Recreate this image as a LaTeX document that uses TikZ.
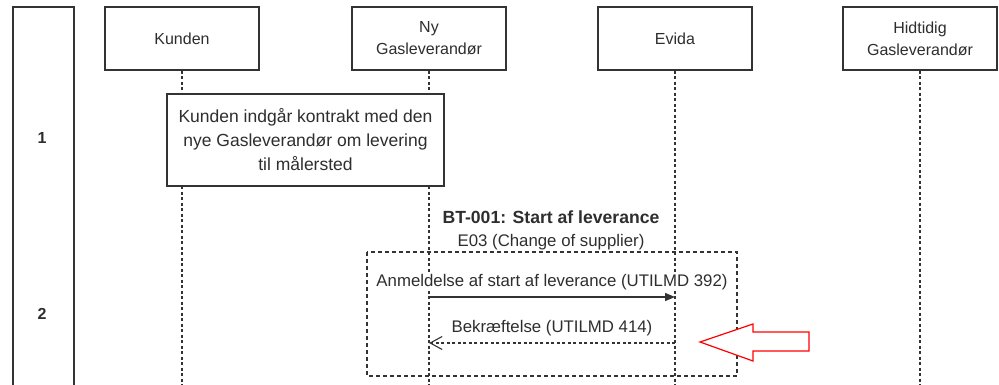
\documentclass[tikz,border=0pt]{standalone}
\usepackage{fontspec}
\setmainfont{Liberation Sans}
\usetikzlibrary{arrows.meta}
\definecolor{txt}{HTML}{2E2E2E}
\definecolor{ln}{HTML}{333333}
\tikzset{
  actor/.style={draw=ln, line width=1.2pt, fill=white, minimum width=154pt, minimum height=63pt, inner sep=0pt, align=center, text=txt, font=\fontsize{16}{22}\selectfont},
  life/.style={draw=ln, line width=1.1pt, dash pattern=on 3pt off 2.5pt},
  notebox/.style={draw=ln, line width=1.2pt, fill=white, align=center, text=txt, font=\fontsize{17.5}{24}\selectfont},
  lbl/.style={text=txt, font=\fontsize{16.8}{20}\selectfont, inner sep=0pt},
  grp/.style={draw=ln, line width=1.1pt, dash pattern=on 4pt off 3pt},
}
\begin{document}
\begin{tikzpicture}[x=1pt,y=-1pt]
\useasboundingbox (0,0) rectangle (999,385);
% phase column
\draw[draw=ln, line width=1.2pt] (13,390) -- (13,7) -- (74,7) -- (74,390);
\node[text=txt, font=\bfseries\fontsize{16}{20}\selectfont] (n1) at (42,138) {1};
\node[text=txt, font=\bfseries\fontsize{16}{20}\selectfont] (n2) at (42,314) {2};
% actors
\node[actor] (kunden) at (182,38.5) {Kunden};
\node[actor] (ny) at (429,38.5) {Ny\\Gasleverandør};
\node[actor] (evida) at (675,38.5) {Evida};
\node[actor] (hid) at (920,38.5) {Hidtidig\\Gasleverandør};
\coordinate (kend) at (182,385);
\coordinate (nyend) at (429,385);
\coordinate (eend) at (675,385);
\coordinate (hend) at (920,385);
\draw[life] (kunden.south) -- (kend);
\draw[life] (ny.south) -- (nyend);
\draw[life] (evida.south) -- (eend);
\draw[life] (hid.south) -- (hend);
% note
\node[notebox, minimum width=277pt, minimum height=92pt, inner sep=0pt] (note) at (305.5,140) {Kunden indgår kontrakt med den\\nye Gasleverandør om levering\\til målersted};
% group
\node[lbl, font=\bfseries\fontsize{17.6}{20}\selectfont] (bt) at (551,217) {BT-001: Start af leverance};
\node[lbl] (e03) at (551,242) {E03 (Change of supplier)};
\draw[grp] (367,252) rectangle (737,376);
% messages
\coordinate (a1s) at (429,297);
\coordinate (a1e) at (675,297);
\draw[draw=ln, line width=1.3pt, -{Triangle[length=10pt,width=8pt]}] (a1s) -- (a1e);
\node[lbl, fill=white, inner sep=1pt] (l1) at (552,282) {Anmeldelse af start af leverance (UTILMD 392)};
\coordinate (a2s) at (675,343);
\coordinate (a2e) at (429,343);
\draw[draw=ln, line width=1.1pt, dash pattern=on 3pt off 2.5pt, -{Straight Barb[length=12pt,width=13pt,line width=1.1pt]}] (a2s) -- (a2e);
\node[lbl, fill=white, inner sep=1pt] (l2) at (552,328) {Bekræftelse (UTILMD 414)};
% red arrow
\draw[red, line width=1.2pt, fill=white, line join=miter] (700,342) -- (753,324) -- (753,332) -- (809,332) -- (809,351) -- (753,351) -- (753,361) -- cycle;
\end{tikzpicture}
\end{document}
